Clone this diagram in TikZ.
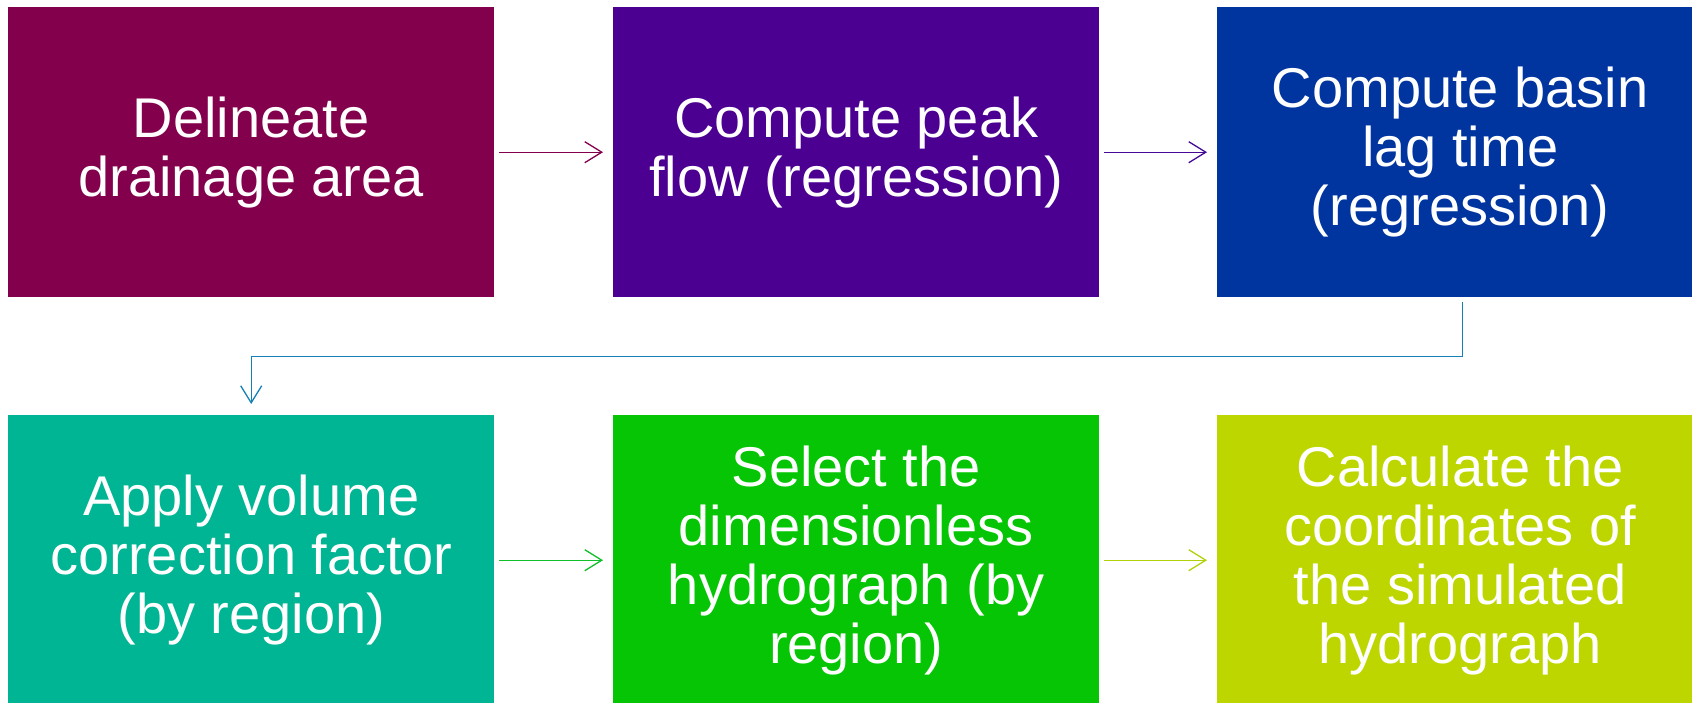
\documentclass[tikz,border=0pt]{standalone}
\usepackage{fontspec}
\setmainfont{Liberation Sans}
\usetikzlibrary{arrows.meta}
\definecolor{cA}{RGB}{131,0,76}
\definecolor{cB}{RGB}{75,0,145}
\definecolor{cC}{RGB}{0,53,160}
\definecolor{cD}{RGB}{0,181,148}
\definecolor{cE}{RGB}{5,197,5}
\definecolor{cF}{RGB}{190,214,0}
\definecolor{lA}{RGB}{131,0,76}
\definecolor{lB}{RGB}{68,10,150}
\definecolor{lC}{RGB}{20,128,180}
\definecolor{lD}{RGB}{16,192,40}
\definecolor{lE}{RGB}{176,210,10}
\begin{document}
\begin{tikzpicture}[x=1pt,y=-1pt,
  stepbox/.style={anchor=north west,minimum width=486pt,minimum height=290pt,
    inner sep=0pt,text=white,align=center,
    font=\fontsize{56}{59}\selectfont},
  flow/.style={line width=1.3pt,-{Straight Barb[length=17pt,width=21pt,line width=1.3pt]}}]
\useasboundingbox (0,0) rectangle (1692,702);
% upper row
\node[stepbox,fill=cA] (b1) at (8,7) {Delineate\\drainage area};
\node[stepbox,fill=cB] (b2) at (613,7) {Compute peak\\flow (regression)};
\node[stepbox,fill=cC] (b3) at (1217,7) {Compute basin\\lag time\\(regression)};
% lower row
\node[stepbox,fill=cD] (b4) at (8,415) {Apply volume\\correction factor\\(by region)};
\node[stepbox,fill=cE] (b5) at (613,415) {Select the\\dimensionless\\hydrograph (by\\region)};
\node[stepbox,fill=cF] (b6) at (1217,415) {Calculate the\\coordinates of\\the simulated\\hydrograph};
% connectors
\draw[flow,lA] ([xshift=5pt]b1.east) -- ([xshift=-10pt]b2.west);
\draw[flow,lB] ([xshift=5pt]b2.east) -- ([xshift=-10pt]b3.west);
\draw[flow,lC] ([xshift=2pt,yshift=-5pt]b3.south) -- ++(0,54) -| ([yshift=11pt]b4.north);
\draw[flow,lD] ([xshift=5pt]b4.east) -- ([xshift=-10pt]b5.west);
\draw[flow,lE] ([xshift=5pt]b5.east) -- ([xshift=-10pt]b6.west);
\end{tikzpicture}
\end{document}
